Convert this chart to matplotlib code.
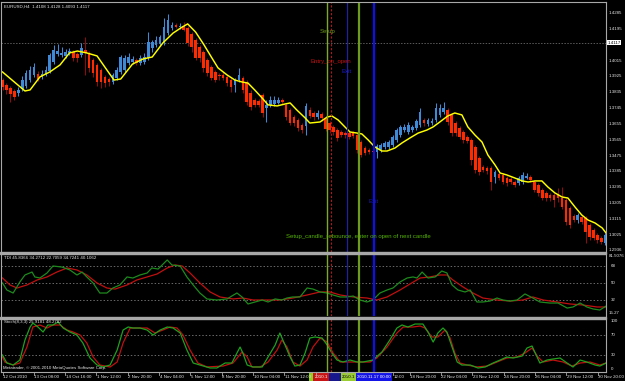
import matplotlib
matplotlib.use('Agg')
import matplotlib.pyplot as plt
from matplotlib import font_manager as fm
from matplotlib.patches import Rectangle
from matplotlib.lines import Line2D
from matplotlib.transforms import blended_transform_factory as blend
import numpy as np

# ------------------------------------------------------------------ data
symbol_header = "EURUSD,H4  1.4108 1.4128 1.4093 1.4117"
tdi_header = "TDI 45.8366 34.2712 22.7059 34.7241 40.1062"
stoch_header = "Stoch(8,3,3) 25.9181 48.2782"
copyright_txt = "Metatrader, \u00a9 2001-2010 MetaQuotes Software Corp."

opens = [
    1.3904, 1.3876, 1.3859, 1.3842, 1.3831, 1.3853, 1.3870, 1.3904, 1.3933, 1.3939,
    1.3922, 1.3939, 1.3956, 1.4007, 1.4052, 1.4046, 1.4041, 1.4058, 1.4063, 1.4052,
    1.4046, 1.4075, 1.4058, 1.4018, 1.3990, 1.3961, 1.3922, 1.3910, 1.3893, 1.3916,
    1.3950, 1.3961, 1.4001, 1.4007, 1.4018, 1.4001, 1.4007, 1.4029, 1.4086, 1.4103,
    1.4109, 1.4115, 1.4171, 1.4200, 1.4217, 1.4205, 1.4211, 1.4200, 1.4166, 1.4132,
    1.4092, 1.4063, 1.4018, 1.3978, 1.3950, 1.3933, 1.3933, 1.3922, 1.3904, 1.3876,
    1.3904, 1.3916, 1.3887, 1.3831, 1.3791, 1.3785, 1.3819, 1.3746, 1.3763, 1.3768,
    1.3774, 1.3791, 1.3763, 1.3734, 1.3694, 1.3677, 1.3649, 1.3643, 1.3734, 1.3717,
    1.3694, 1.3711, 1.3689, 1.3660, 1.3638, 1.3620, 1.3609, 1.3603, 1.3603, 1.3603,
    1.3592, 1.3552, 1.3518, 1.3507, 1.3501, 1.3495, 1.3507, 1.3524, 1.3524, 1.3535,
    1.3564, 1.3592, 1.3620, 1.3609, 1.3620, 1.3632, 1.3649, 1.3677, 1.3655, 1.3660,
    1.3677, 1.3706, 1.3723, 1.3734, 1.3706, 1.3660, 1.3632, 1.3609, 1.3581, 1.3564,
    1.3524, 1.3461, 1.3410, 1.3405, 1.3405, 1.3354, 1.3371, 1.3365, 1.3348, 1.3342,
    1.3325, 1.3319, 1.3325, 1.3348, 1.3354, 1.3325, 1.3308, 1.3280, 1.3263, 1.3251,
    1.3251, 1.3251, 1.3234, 1.3223, 1.3178, 1.3132, 1.3109, 1.3126, 1.3121, 1.3081,
    1.3052, 1.3024, 1.3007, 1.2979]

highs = [
    1.3916, 1.3887, 1.3870, 1.3853, 1.3865, 1.3927, 1.3961, 1.3984, 1.4001, 1.3956,
    1.3961, 1.3984, 1.4058, 1.4103, 1.4109, 1.4092, 1.4080, 1.4086, 1.4075, 1.4063,
    1.4115, 1.4149, 1.4069, 1.4029, 1.4001, 1.3973, 1.3933, 1.3922, 1.3944, 1.3978,
    1.4046, 1.4046, 1.4058, 1.4041, 1.4029, 1.4046, 1.4058, 1.4177, 1.4132, 1.4154,
    1.4160, 1.4257, 1.4279, 1.4234, 1.4228, 1.4228, 1.4234, 1.4211, 1.4177, 1.4143,
    1.4103, 1.4075, 1.4029, 1.3990, 1.3961, 1.3944, 1.3950, 1.3933, 1.3916, 1.3916,
    1.3973, 1.3927, 1.3904, 1.3848, 1.3802, 1.3797, 1.3831, 1.3791, 1.3814, 1.3814,
    1.3808, 1.3802, 1.3774, 1.3746, 1.3706, 1.3689, 1.3660, 1.3774, 1.3751, 1.3728,
    1.3734, 1.3723, 1.3700, 1.3672, 1.3649, 1.3632, 1.3620, 1.3615, 1.3615, 1.3615,
    1.3603, 1.3564, 1.3530, 1.3518, 1.3518, 1.3541, 1.3547, 1.3558, 1.3564, 1.3592,
    1.3632, 1.3649, 1.3655, 1.3666, 1.3649, 1.3683, 1.3746, 1.3689, 1.3689, 1.3689,
    1.3774, 1.3768, 1.3780, 1.3746, 1.3717, 1.3672, 1.3643, 1.3620, 1.3592, 1.3575,
    1.3535, 1.3473, 1.3422, 1.3416, 1.3416, 1.3393, 1.3382, 1.3376, 1.3359, 1.3354,
    1.3336, 1.3359, 1.3382, 1.3376, 1.3365, 1.3336, 1.3319, 1.3291, 1.3274, 1.3263,
    1.3263, 1.3291, 1.3297, 1.3234, 1.3189, 1.3143, 1.3149, 1.3138, 1.3132, 1.3092,
    1.3064, 1.3035, 1.3018, 1.3035]

lows = [
    1.3848, 1.3825, 1.3780, 1.3791, 1.3814, 1.3842, 1.3859, 1.3893, 1.3922, 1.3899,
    1.3910, 1.3927, 1.3944, 1.3995, 1.4041, 1.4035, 1.4029, 1.4046, 1.4012, 1.4007,
    1.4035, 1.3933, 1.3950, 1.3922, 1.3870, 1.3859, 1.3865, 1.3870, 1.3882, 1.3904,
    1.3939, 1.3950, 1.3990, 1.3995, 1.3990, 1.3990, 1.3995, 1.4018, 1.4063, 1.4092,
    1.4097, 1.4103, 1.4160, 1.4188, 1.4200, 1.4194, 1.4183, 1.4097, 1.4063, 1.4018,
    1.4007, 1.3950, 1.3927, 1.3904, 1.3893, 1.3904, 1.3904, 1.3870, 1.3836, 1.3836,
    1.3893, 1.3831, 1.3763, 1.3734, 1.3751, 1.3751, 1.3694, 1.3666, 1.3751, 1.3757,
    1.3768, 1.3768, 1.3677, 1.3649, 1.3643, 1.3615, 1.3603, 1.3592, 1.3689, 1.3677,
    1.3683, 1.3672, 1.3615, 1.3603, 1.3592, 1.3558, 1.3581, 1.3575, 1.3569, 1.3575,
    1.3490, 1.3467, 1.3478, 1.3484, 1.3490, 1.3461, 1.3495, 1.3513, 1.3513, 1.3524,
    1.3552, 1.3581, 1.3609, 1.3598, 1.3609, 1.3620, 1.3638, 1.3643, 1.3643, 1.3649,
    1.3666, 1.3694, 1.3711, 1.3649, 1.3586, 1.3586, 1.3569, 1.3547, 1.3547, 1.3422,
    1.3376, 1.3365, 1.3382, 1.3371, 1.3280, 1.3319, 1.3336, 1.3314, 1.3302, 1.3314,
    1.3297, 1.3308, 1.3314, 1.3342, 1.3325, 1.3268, 1.3246, 1.3223, 1.3217, 1.3217,
    1.3183, 1.3212, 1.3172, 1.3081, 1.3064, 1.3098, 1.3092, 1.3087, 1.2979, 1.2996,
    1.2996, 1.2979, 1.2973, 1.2967]

closes = [
    1.3865, 1.3848, 1.3825, 1.3808, 1.3848, 1.3904, 1.3944, 1.3961, 1.3978, 1.3910,
    1.3939, 1.3961, 1.4046, 1.4075, 1.4069, 1.4058, 1.4063, 1.4069, 1.4029, 1.4029,
    1.4086, 1.4058, 1.3973, 1.3944, 1.3893, 1.3893, 1.3887, 1.3893, 1.3933, 1.3961,
    1.4035, 1.4029, 1.4035, 1.4024, 1.4001, 1.4029, 1.4035, 1.4120, 1.4120, 1.4132,
    1.4149, 1.4205, 1.4245, 1.4217, 1.4205, 1.4211, 1.4188, 1.4115, 1.4092, 1.4029,
    1.4029, 1.3973, 1.3944, 1.3916, 1.3904, 1.3927, 1.3916, 1.3887, 1.3865, 1.3904,
    1.3933, 1.3848, 1.3780, 1.3751, 1.3763, 1.3763, 1.3717, 1.3763, 1.3791, 1.3791,
    1.3791, 1.3780, 1.3694, 1.3660, 1.3660, 1.3632, 1.3620, 1.3757, 1.3700, 1.3694,
    1.3717, 1.3689, 1.3626, 1.3620, 1.3609, 1.3575, 1.3592, 1.3592, 1.3581, 1.3586,
    1.3507, 1.3478, 1.3490, 1.3495, 1.3495, 1.3530, 1.3535, 1.3547, 1.3552, 1.3581,
    1.3620, 1.3638, 1.3638, 1.3649, 1.3638, 1.3672, 1.3723, 1.3660, 1.3677, 1.3672,
    1.3746, 1.3746, 1.3746, 1.3666, 1.3603, 1.3603, 1.3581, 1.3564, 1.3558, 1.3450,
    1.3393, 1.3382, 1.3393, 1.3388, 1.3325, 1.3382, 1.3348, 1.3325, 1.3319, 1.3325,
    1.3308, 1.3348, 1.3365, 1.3359, 1.3336, 1.3280, 1.3263, 1.3234, 1.3234, 1.3234,
    1.3223, 1.3234, 1.3183, 1.3098, 1.3081, 1.3109, 1.3138, 1.3098, 1.3041, 1.3013,
    1.3007, 1.2996, 1.2984, 1.3024]

# yellow moving average (bar position, price)
ma_x = [0, 5.7, 7, 9.5, 12, 14.6, 17, 19, 21.4, 24, 26.5, 28.3, 30, 33, 35.7,
        38, 40.7, 43.3, 45.6, 47, 49, 51, 53, 54.7, 57, 59, 60.8, 62.3, 64, 65.9,
        67.4, 69.7, 71.7, 73, 74.7, 76.8, 78, 80.6, 82.4, 83.6, 85.2, 86.9, 88.2,
        90, 91.2, 92.8, 94.5, 96.3, 97.6, 99.6, 101.4, 103.4, 105.5, 107.7, 109.3,
        111, 113, 114.8, 116.6, 118.1, 119.9, 121.7, 123.2, 125, 126.3, 128, 130,
        131.9, 133.4, 135.2, 136.9, 138.4, 140.2, 142, 143.5, 145.3, 147, 148.6,
        150.4, 152.2, 153.2]
ma_v = [1.3950, 1.3842, 1.3848, 1.3922, 1.3950, 1.3990, 1.4058, 1.4069, 1.4058,
        1.4041, 1.3961, 1.3904, 1.3910, 1.3995, 1.4024, 1.4035, 1.4115, 1.4171,
        1.4205, 1.4223, 1.4177, 1.4109, 1.4035, 1.3973, 1.3933, 1.3904, 1.3893,
        1.3887, 1.3848, 1.3802, 1.3763, 1.3757, 1.3768, 1.3774, 1.3734, 1.3689,
        1.3660, 1.3666, 1.3694, 1.3700, 1.3677, 1.3638, 1.3609, 1.3603, 1.3598,
        1.3564, 1.3524, 1.3501, 1.3501, 1.3518, 1.3547, 1.3575, 1.3603, 1.3620,
        1.3638, 1.3666, 1.3700, 1.3717, 1.3706, 1.3638, 1.3592, 1.3552, 1.3478,
        1.3422, 1.3376, 1.3365, 1.3348, 1.3331, 1.3325, 1.3331, 1.3331, 1.3297,
        1.3263, 1.3240, 1.3234, 1.3183, 1.3138, 1.3109, 1.3092, 1.3064, 1.3035]

# TDI: RSI price line (green) and signal line (red)
tdi_x = [0, 1.1, 2.7, 4.4, 5.7, 7.5, 8.2, 9.5, 11.3, 12.8, 15.1, 17.1, 18.9, 20.2,
         21.4, 23.0, 24.7, 26.5, 28.0, 29.8, 31.6, 33.1, 34.9, 36.7, 37.9, 39.5,
         41.8, 43.0, 45.1, 46.8, 48.4, 50.1, 51.9, 54.4, 57.0, 58.2, 59.5, 60.8,
         62.3, 64.1, 65.9, 67.4, 69.2, 70.9, 72.2, 73.7, 75.5, 77.3, 78.8, 80.6,
         82.4, 83.9, 85.7, 87.4, 89.0, 90.7, 92.5, 94.0, 95.8, 97.6, 99.1, 100.9,
         102.7, 104.2, 105.2, 106.5, 108.0, 109.8, 111.5, 112.8, 114.1, 115.6,
         117.4, 118.7, 120.4, 121.9, 123.7, 125.5, 127.0, 128.8, 130.6, 132.6,
         134.6, 136.4, 138.9, 141.0, 143.3, 144.8, 146.6, 148.3, 149.9, 151.6, 153.2]
tdi_rsi = [50.0, 42.6, 39.4, 51.1, 58.5, 61.6, 56.4, 55.3, 60.6, 68.0, 66.9, 63.8,
           58.5, 61.6, 56.4, 50.0, 39.4, 39.4, 44.7, 47.9, 56.4, 55.3, 58.5, 60.6,
           65.9, 64.8, 74.4, 69.1, 68.0, 56.4, 47.9, 39.4, 33.1, 32.0, 33.1, 36.2,
           39.4, 35.2, 27.8, 29.9, 32.0, 29.9, 33.1, 32.0, 34.1, 35.2, 35.2, 44.7,
           43.6, 40.5, 39.4, 37.3, 35.2, 35.2, 36.2, 32.0, 29.9, 32.0, 39.4, 42.6,
           44.7, 51.1, 55.3, 56.4, 55.3, 61.6, 55.3, 56.4, 62.7, 60.6, 47.9, 42.6,
           40.5, 42.6, 29.9, 29.9, 30.9, 34.1, 32.0, 30.9, 32.0, 38.4, 34.1, 29.9,
           28.8, 28.8, 23.5, 24.6, 28.8, 24.6, 22.5, 21.4, 25.6]
tdi_sig_x = [0, 1.9, 3.7, 6.2, 8.8, 11.3, 13.8, 16.4, 18.9, 21.4, 24.0, 26.5, 28.6,
             31.6, 34.1, 36.7, 39.2, 41.8, 43.8, 45.6, 47.6, 50.1, 52.7, 55.2, 58.5,
             61.0, 63.6, 67.1, 70.4, 73.7, 77.3, 80.6, 83.1, 85.7, 89.0, 92.5, 95.0,
             97.6, 100.9, 103.4, 106.0, 108.5, 111.0, 112.8, 114.3, 116.9, 119.4,
             121.9, 125.5, 128.8, 132.1, 134.6, 137.2, 140.7, 144.0, 147.3, 150.9, 153.2]
tdi_sig = [55.3, 47.9, 44.7, 47.9, 53.2, 56.4, 61.6, 65.9, 63.8, 58.5, 50.0, 44.7,
           43.6, 47.9, 53.2, 56.4, 59.5, 65.9, 69.1, 68.0, 60.6, 50.0, 40.5, 35.2,
           33.1, 34.1, 32.0, 32.0, 32.0, 34.1, 37.3, 40.5, 40.5, 37.3, 35.2, 34.1,
           32.0, 35.2, 42.6, 48.9, 55.3, 56.4, 58.5, 58.5, 53.2, 45.8, 39.4, 34.1,
           32.0, 30.9, 32.0, 35.2, 32.0, 29.9, 27.8, 26.7, 24.6, 24.6]
tdi_levels = [68, 50, 32]

# Stochastic (8,3,3): main (green) and signal (red)
st_x = [0, 1.1, 2.7, 4.4, 5.7, 7.0, 7.7, 9.0, 10.3, 11.5, 12.8, 14.1, 15.4, 17.1,
        18.9, 20.4, 22.2, 24.0, 25.5, 27.3, 29.1, 30.6, 31.9, 33.1, 34.9, 36.7,
        38.2, 40.0, 41.8, 43.3, 45.1, 46.8, 48.4, 50.1, 52.7, 54.4, 56.5, 58.2,
        59.5, 60.3, 61.0, 62.1, 63.6, 65.9, 67.4, 69.2, 70.4, 71.7, 73.0, 74.2,
        75.5, 76.8, 78.0, 79.3, 81.1, 82.4, 83.6, 84.9, 86.4, 88.2, 90.0, 91.5,
        94.0, 96.3, 98.3, 100.1, 101.4, 102.9, 104.7, 106.7, 108.0, 109.3, 110.5,
        111.8, 112.8, 114.1, 115.4, 116.6, 118.7, 120.7, 122.5, 124.5, 126.3,
        128.0, 129.6, 131.9, 133.1, 134.4, 135.2, 136.4, 138.2, 139.7, 141.5,
        143.3, 144.8, 146.6, 148.3, 150.4, 151.6, 153.2]
st_main = [29.2, 12.5, 8.3, 18.7, 60.4, 87.5, 95.8, 87.5, 77.1, 91.7, 91.7, 97.9,
           85.4, 77.1, 70.8, 54.2, 22.9, 8.3, 4.2, 8.3, 39.6, 81.2, 87.5, 85.4,
           85.4, 81.2, 70.8, 81.2, 87.5, 85.4, 75.0, 39.6, 12.5, 8.3, 2.1, 2.1,
           12.5, 12.5, 33.3, 45.8, 33.3, 8.3, 4.2, 4.2, 25.0, 50.0, 75.0, 50.0,
           25.0, 6.2, 8.3, 33.3, 64.6, 66.7, 64.6, 50.0, 33.3, 18.7, 14.6, 18.7,
           14.6, 14.6, 18.7, 35.4, 60.4, 85.4, 91.7, 87.5, 93.7, 93.7, 77.1, 56.2,
           75.0, 85.4, 77.1, 45.8, 14.6, 8.3, 8.3, 2.1, 4.2, 12.5, 18.7, 25.0, 22.9,
           27.1, 43.7, 47.9, 33.3, 12.5, 18.7, 20.8, 22.9, 12.5, 4.2, 18.7, 14.6,
           8.3, 6.2, 12.5]
st_sig_x = [0, 0.6, 2.7, 4.4, 6.2, 7.7, 9.5, 11.3, 12.8, 14.6, 16.4, 17.9, 19.7,
            21.4, 23.0, 24.7, 27.3, 29.1, 30.6, 32.4, 34.1, 36.7, 38.7, 40.7, 42.5,
            44.3, 45.8, 47.6, 49.6, 51.9, 56.0, 58.5, 60.8, 62.1, 63.3, 65.4, 67.4,
            69.7, 70.9, 72.2, 73.7, 75.5, 77.3, 78.8, 80.6, 82.4, 83.9, 85.7, 88.2,
            90.7, 93.3, 95.0, 97.6, 100.1, 101.7, 104.2, 106.0, 107.2, 109.0, 110.5,
            112.3, 113.6, 114.8, 116.1, 117.9, 120.4, 123.0, 125.5, 128.0, 130.6,
            132.6, 134.4, 135.9, 137.2, 139.7, 142.3, 144.5, 146.6, 149.1, 151.6, 153.2]
st_sig = [25.0, 14.6, 8.3, 12.5, 45.8, 87.5, 91.7, 85.4, 91.7, 91.7, 81.2, 77.1,
          70.8, 54.2, 25.0, 8.3, 4.2, 14.6, 54.2, 85.4, 85.4, 85.4, 75.0, 81.2,
          87.5, 85.4, 70.8, 39.6, 12.5, 4.2, 6.2, 12.5, 35.4, 25.0, 4.2, 4.2, 14.6,
          39.6, 60.4, 45.8, 14.6, 6.2, 18.7, 45.8, 64.6, 56.2, 33.3, 14.6, 14.6,
          14.6, 14.6, 22.9, 45.8, 75.0, 87.5, 87.5, 89.6, 85.4, 66.7, 66.7, 81.2,
          64.6, 33.3, 12.5, 8.3, 4.2, 6.2, 14.6, 22.9, 25.0, 33.3, 43.7, 25.0,
          14.6, 18.7, 14.6, 6.2, 12.5, 14.6, 8.3, 12.5]
st_levels = [70, 30]

# axis labels
price_ticks = [1.4285, 1.4195, 1.4015, 1.3925, 1.3835, 1.3745, 1.3655, 1.3565,
               1.3475, 1.3385, 1.3295, 1.3205, 1.3115, 1.3025, 1.2936]
last_price = 1.4117
tdi_ticks = ["68", "50", "32"]
tdi_range_labels = ["81.5076", "15.27"]
st_ticks = ["100", "70", "30", "0"]
# time-axis labels (one every 8 bars); the ones under the event boxes are hidden
date_labels = ["12 Oct 2010", "13 Oct 08:00", "14 Oct 16:00", "1 Nov 12:00",
               "2 Nov 20:00", "4 Nov 04:00", "5 Nov 12:00", "8 Nov 20:00",
               "10 Nov 04:00", "11 Nov 12:00", "", "", "12:00",
               "18 Nov 20:00", "22 Nov 04:00", "23 Nov 12:00",
               "24 Nov 20:00", "26 Nov 04:00", "29 Nov 12:00", "30 Nov 20:00"]

# vertical event lines (bar position) and the visible part of their time labels
event_pos = [82.4, 83.4, 87.4, 90.5, 94.3]
event_label = ["", "2010.1", "", "2010.1", "2010.11.17 00:00"]

# chart texts: (bar position, price, text)
note_setup = (82.4, 1.4177, "Setup")
note_entry = (83.4, 1.4012, "Entry_on_open")
note_exit1 = (87.3, 1.3950, "Exit")
note_exit2 = (94.2, 1.3217, "Exit")
note_rebounce = (90.2, 1.3018, "Setup_candle_rebounce, enter on open of next candle")

# ------------------------------------------------------------------ fonts
def _has(name):
    try:
        fm.findfont(fm.FontProperties(family=name), fallback_to_default=False)
        return True
    except Exception:
        return False

if _has('Liberation Sans Narrow'):
    FONT, K = 'Liberation Sans Narrow', 1.0
else:
    FONT, K = 'Liberation Sans', 0.8
plt.rcParams['font.family'] = [FONT, 'DejaVu Sans']
SMALL = 3.9 * K
NOTE = 5.4 * K

# ------------------------------------------------------------------ layout
W, H = 625, 381
fig = plt.figure(figsize=(W / 100, H / 100), dpi=100, facecolor='black')

def FX(px):
    return px / W

def FY(py):
    return 1 - py / H

L, R = 1, 606
XLIM = (-0.381, 153.17)
GRAY = '#A8A8A8'
TXT = '#E6E6E6'


def make_ax(top, bot):
    a = fig.add_axes([FX(L), FY(bot), FX(R - L), (bot - top) / H])
    a.set_facecolor('black')
    a.set_xticks([])
    a.set_yticks([])
    for s in a.spines.values():
        s.set_visible(False)
    a.set_xlim(*XLIM)
    return a

ax = make_ax(2, 252)
ax.set_ylim(1.29274, 1.43474)
ax_t = make_ax(254, 316)
ax_t.set_ylim(15.06, 80.71)
ax_s = make_ax(319, 372)
ax_s.set_ylim(-6.25, 104.2)

# ---------------- candles
o = np.array(opens); h = np.array(highs); l = np.array(lows); c = np.array(closes)
x = np.arange(len(c))
up = c >= o
body_lo = np.minimum(o, c)
body_h = np.maximum(np.abs(c - o), 0.0006)
BULL, BEAR, BEAR_W = '#3E8AD6', '#FF2A00', '#8E0C0C'
ax.vlines(x[up], l[up], h[up], color=BULL, lw=0.75, zorder=2)
ax.vlines(x[~up], l[~up], h[~up], color=BEAR_W, lw=0.75, zorder=2)
ax.bar(x[up], body_h[up], bottom=body_lo[up], width=0.66, color=BULL,
       linewidth=0, zorder=3)
ax.bar(x[~up], body_h[~up], bottom=body_lo[~up], width=0.66, color=BEAR,
       linewidth=0, zorder=3)

ax.plot(ma_x, ma_v, color='#FFFF00', lw=1.05, zorder=4)
ax.axhline(last_price, color='#5A5A5A', lw=0.7, ls=(0, (1.5, 1.5)), zorder=1)

# notes
ax.text(note_setup[0], note_setup[1], note_setup[2], color='#6E9A1E',
        fontsize=NOTE, ha='center', va='center', zorder=6)
ax.text(note_entry[0], note_entry[1], note_entry[2], color='#C41010',
        fontsize=NOTE, ha='center', va='center', zorder=6)
ax.text(note_exit1[0], note_exit1[1], note_exit1[2], color='#1A1ACD',
        fontsize=NOTE, ha='center', va='center', zorder=6)
ax.text(note_exit2[0], note_exit2[1], note_exit2[2], color='#1A1AB0',
        fontsize=NOTE, ha='center', va='center', zorder=6)
ax.text(note_rebounce[0], note_rebounce[1], note_rebounce[2], color='#55B400',
        fontsize=NOTE, ha='center', va='center', zorder=6)

# price axis labels
tr = blend(ax.transAxes, ax.transData)
for p in price_ticks:
    ax.text(1.005, p, f"{p:.4f}", transform=tr, color=TXT, fontsize=SMALL,
            ha='left', va='center', clip_on=False)
ax.text(1.002, last_price, f"{last_price:.4f}", transform=tr, color='black',
        fontsize=SMALL, ha='left', va='center', clip_on=False,
        bbox=dict(facecolor='white', edgecolor='none', pad=0.6))

# ---------------- TDI
for lv in tdi_levels:
    ax_t.axhline(lv, color='#6A6A6A', lw=0.7, ls=(0, (1.5, 2)), zorder=1)
ax_t.plot(tdi_x, tdi_rsi, color='#1E8A1E', lw=0.9, zorder=3)
ax_t.plot(tdi_sig_x, tdi_sig, color='#C01010', lw=0.9, zorder=2)
trt = blend(ax_t.transAxes, ax_t.transData)
for lv, lab in zip(tdi_levels, tdi_ticks):
    ax_t.text(1.008, lv, lab, transform=trt, color=TXT, fontsize=SMALL,
              ha='left', va='center', clip_on=False)
ax_t.text(1.005, 1.0, tdi_range_labels[0], transform=ax_t.transAxes, color=TXT,
          fontsize=SMALL, ha='left', va='top', clip_on=False)
ax_t.text(1.005, 0.02, tdi_range_labels[1], transform=ax_t.transAxes, color=TXT,
          fontsize=SMALL, ha='left', va='bottom', clip_on=False)

# ---------------- Stochastic
for lv in st_levels:
    ax_s.axhline(lv, color='#6A6A6A', lw=0.7, ls=(0, (1.5, 2)), zorder=1)
ax_s.plot(st_x, st_main, color='#1FA01F', lw=0.9, zorder=3)
ax_s.plot(st_sig_x, st_sig, color='#C01010', lw=0.9, zorder=2)
trs = blend(ax_s.transAxes, ax_s.transData)
for lab in st_ticks:
    ax_s.text(1.008, float(lab), lab, transform=trs, color=TXT, fontsize=SMALL,
              ha='left', va='center', clip_on=False)

# ---------------- event lines across all panels
ev_styles = [('#7DA82A', 1.0, '-'), ('#B01818', 0.8, (0, (2, 1.5))),
             ('#22229A', 0.9, '-'), ('#6E9A1E', 1.6, '-'), ('#1010E6', 1.6, '-')]
for a in (ax, ax_t, ax_s):
    for pos, (col, lw, ls) in zip(event_pos, ev_styles):
        a.axvline(pos, color=col, lw=lw, ls=ls, zorder=5)

# ---------------- frame, separators
fig.patches.append(Rectangle((FX(0), FY(254)), FX(R), 2 / H, transform=fig.transFigure,
                             color=GRAY, zorder=1))
fig.patches.append(Rectangle((FX(0), FY(319)), FX(R), 2.5 / H, transform=fig.transFigure,
                             color=GRAY, zorder=1))
for (x0, y0, x1, y1) in [(L, 2, R, 2), (R, 2, R, 372), (L, 2, L, 372), (L, 372, R, 372)]:
    fig.lines.append(Line2D([FX(x0), FX(x1)], [FY(y0), FY(y1)], transform=fig.transFigure,
                            color=GRAY, lw=0.8, zorder=2))

# ---------------- header texts
fig.text(FX(4), FY(6.5), symbol_header, color=TXT, fontsize=SMALL, ha='left', va='center')
fig.text(FX(4), FY(258), tdi_header, color=TXT, fontsize=SMALL, ha='left', va='center')
fig.text(FX(4), FY(322.5), stoch_header, color=TXT, fontsize=SMALL, ha='left', va='center')
fig.text(FX(3), FY(368), copyright_txt, color=TXT, fontsize=SMALL, ha='left', va='center')

# ---------------- time axis (label every 8 bars, ~31.3 px apart)
STEP_PX = 31.32
for k, lab in enumerate(date_labels):
    px = 3 + STEP_PX * k
    if lab == "12:00":
        px += 15          # only the tail of this label peeks out from under the boxes
    fig.lines.append(Line2D([FX(px - 0.5)] * 2, [FY(372), FY(375)],
                            transform=fig.transFigure, color=GRAY, lw=0.6, zorder=3))
    if lab:
        fig.text(FX(px), FY(377), lab, color=TXT, fontsize=SMALL,
                 ha='left', va='center', zorder=3)

box_cols = [('#8CD21E', 'black'), ('#C81414', 'white'), ('#18188C', 'white'),
            ('#9ACD32', 'black'), ('#1414E6', 'white')]
trx = blend(ax_s.transData, fig.transFigure)
half = 18 / 3.94
for k, (pos, t) in enumerate(zip(event_pos, event_label)):
    fc, tc = box_cols[k]
    ax_s.add_patch(Rectangle((pos - half, FY(381)), 2 * half, 8.6 / H, transform=trx,
                             facecolor=fc, edgecolor='none', clip_on=False,
                             zorder=10 + 2 * k))
    if t:
        ax_s.text(pos - half + 0.3, FY(376.8), t, transform=trx, color=tc,
                  fontsize=SMALL, ha='left', va='center', clip_on=False,
                  zorder=11 + 2 * k)

fig.savefig('out.png', dpi=100, facecolor='black')
